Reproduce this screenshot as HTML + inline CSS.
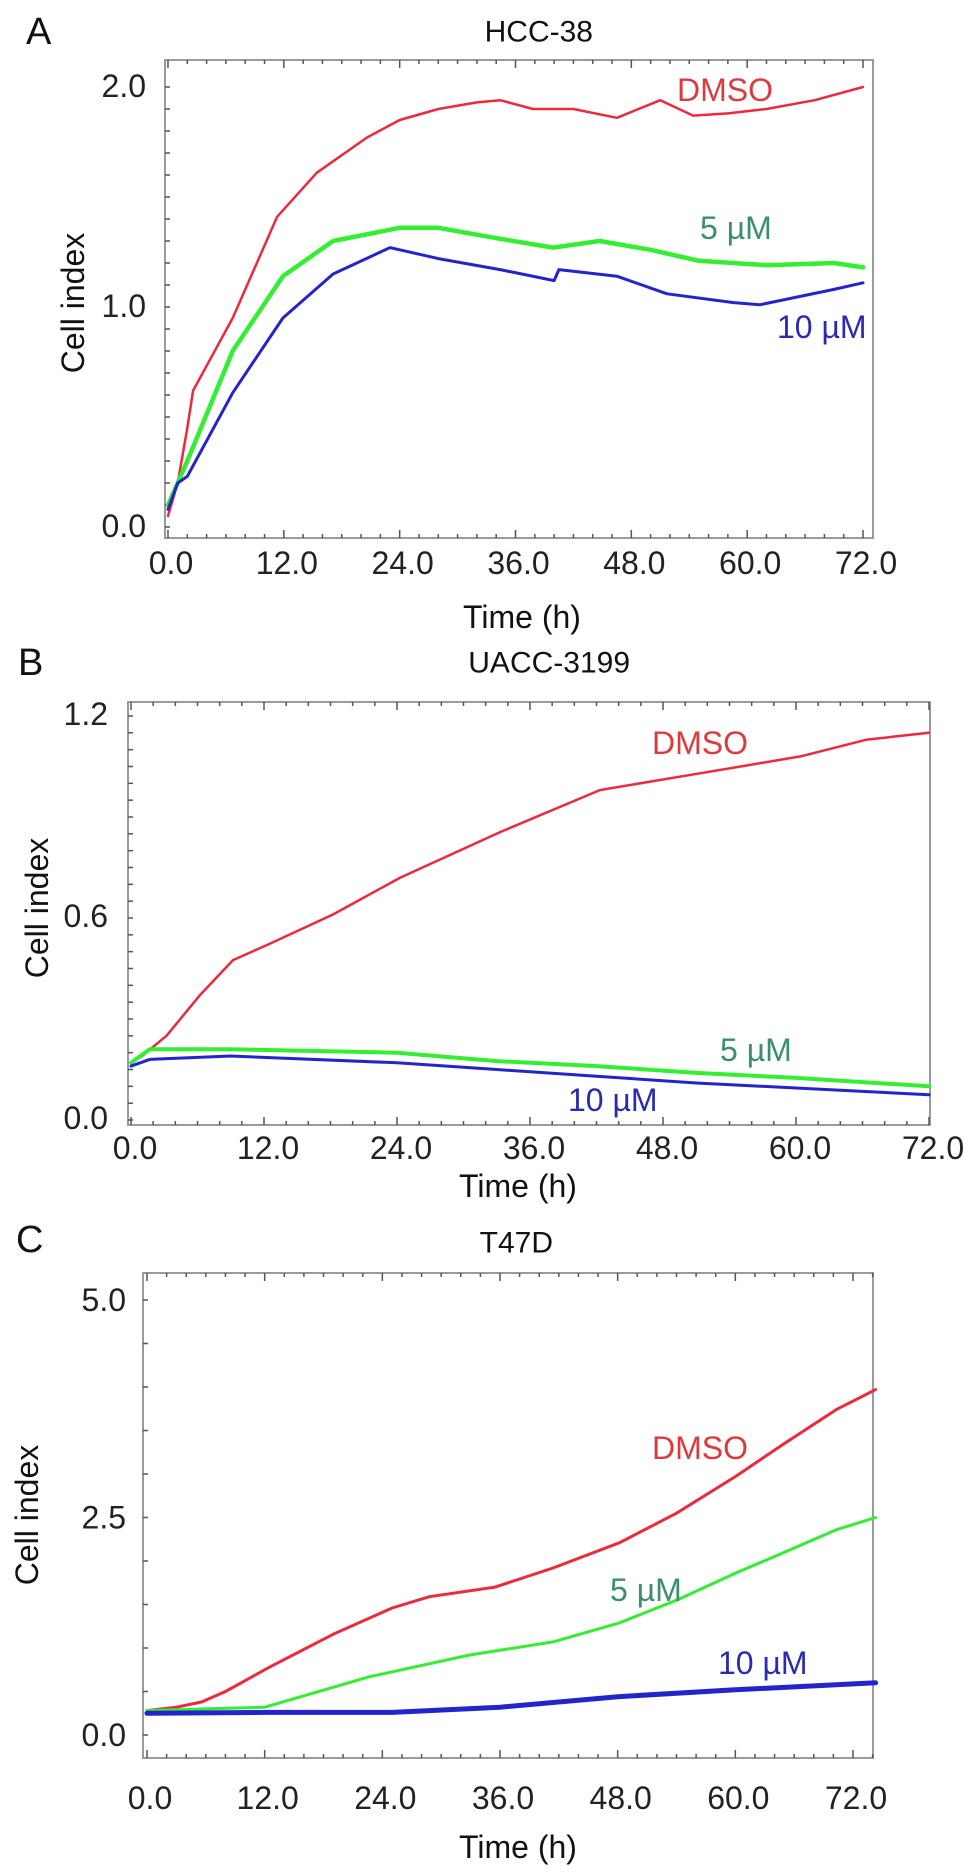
<!DOCTYPE html>
<html>
<head>
<meta charset="utf-8">
<style>
html,body{margin:0;padding:0;background:#fff;}
svg{display:block;font-family:"Liberation Sans",Arial,sans-serif;}
</style>
</head>
<body>
<svg id="fig" width="969" height="1872" viewBox="0 0 969 1872"></svg>
<script>
// ---------- Panel A: HCC-38 ----------
const aTimes = [0,1,2,2.6,6.7,11.3,15.4,20.6,24,28,32,34.4,37.8,42,46.5,51,54.4,58,62,67,72];
const aDMSO  = [0.05,0.2,0.45,0.62,0.95,1.41,1.61,1.77,1.85,1.9,1.93,1.94,1.9,1.9,1.86,1.94,1.87,1.88,1.9,1.94,2.0];
const aTimes5 = [0,1,2,6.7,11.9,17.1,24,28,34.4,39.9,44.7,50,55,62,69,72];
const a5uM   = [0.1,0.2,0.3,0.8,1.14,1.3,1.36,1.36,1.31,1.27,1.3,1.26,1.21,1.19,1.2,1.18];
const aTimes10 = [0,1,2,6.7,11.9,17.1,23,24,28,34.4,40,40.5,46.5,51.7,58.6,61.3,69,72];
const a10uM  = [0.08,0.2,0.23,0.61,0.95,1.15,1.27,1.26,1.22,1.17,1.12,1.17,1.14,1.06,1.02,1.01,1.08,1.11];
const aYTicks = [0.0,1.0,2.0];
const aXTicks = [0,12,24,36,48,60,72];

// ---------- Panel B: UACC-3199 ----------
const bTimes = [0,1,3.2,6.2,9.2,12.3,18.2,24.3,33.3,42.3,51.4,60.4,66.4,72];
const bDMSO  = [0.17,0.19,0.25,0.37,0.475,0.52,0.61,0.72,0.855,0.98,1.03,1.08,1.13,1.15];
const bTimes2 = [0,1.7,9,24,33,42,51,60,72];
const b5uM   = [0.17,0.21,0.21,0.2,0.175,0.16,0.14,0.125,0.1];
const b10uM  = [0.16,0.18,0.19,0.17,0.15,0.13,0.11,0.095,0.075];
const bYTicks = [0.0,0.6,1.2];
const bXTicks = [0,12,24,36,48,60,72];

// ---------- Panel C: T47D ----------
const cTimes = [0,3,5.6,8,12.5,19.2,25,28.8,35.5,41.4,48.2,54,60,65,70.3,74.3];
const cDMSO  = [0.28,0.32,0.38,0.5,0.78,1.17,1.46,1.59,1.7,1.92,2.21,2.55,2.97,3.35,3.74,3.97];
const cTimes5 = [0,6,12,22.7,32.9,41.4,48.2,54,60,65,70.3,74.3];
const c5uM   = [0.28,0.3,0.32,0.67,0.92,1.07,1.29,1.55,1.86,2.1,2.36,2.5];
const cTimes10 = [0,12,25,36,48,60,74.3];
const c10uM  = [0.25,0.26,0.26,0.32,0.44,0.52,0.6];
const cYTicks = [0.0,2.5,5.0];
const cXTicks = [0,12,24,36,48,60,72];

const NS = "http://www.w3.org/2000/svg";
const svg = document.getElementById('fig');
function mk(tag, attrs, parent){
  const e = document.createElementNS(NS, tag);
  for (const k in attrs) e.setAttribute(k, attrs[k]);
  (parent||svg).appendChild(e);
  return e;
}
function makeScale(d0,d1,r0,r1){ return v => r0 + (v-d0)/(d1-d0)*(r1-r0); }

function panel(cfg){
  const g = mk('g',{});
  
  
  const x = makeScale(0,72,cfg.x0,cfg.x72);
  const y = makeScale(cfg.yLo,cfg.yHi,cfg.yLoPx,cfg.yHiPx);
  const f = cfg.frame;
  const fr = mk('rect',{x:f.l,y:f.t,width:f.r-f.l,height:f.b-f.t,fill:'none',stroke:'#9a9a9a','stroke-width':2},g);
  
  
  for (let t=0; t<=cfg.xMaxTick; t+=2){
    const px = x(t);
    if (px < f.l || px > f.r) continue;
    const len = (t%12===0)?8:4;
    mk('line',{x1:px,x2:px,y1:f.b,y2:f.b-len,stroke:'#555','stroke-width':1.5},g);
    mk('line',{x1:px,x2:px,y1:f.t,y2:f.t+len,stroke:'#555','stroke-width':1.5},g);
  }
  const step = cfg.yMinor;
  for (let v=cfg.yLo; v<=cfg.yHi+1e-9; v+=step){
    const py = y(v);
    if (py < f.t || py > f.b) continue;
    mk('line',{x1:f.l,x2:f.l+5,y1:py,y2:py,stroke:'#555','stroke-width':1.5},g);
  }
  cfg.xTicks.forEach(t=>{
    const tx = mk('text',{x:x(t)+cfg.xLabelDx,y:cfg.xLabelY,'font-size':32,'text-anchor':'middle','dominant-baseline':'central',fill:'#222'},g);
    tx.textContent = t.toFixed(1);
    
    
  });
  cfg.yTicks.forEach(v=>{
    const ty = mk('text',{x:cfg.yLabelX,y:y(v)+cfg.yLabelDy,'font-size':32,'text-anchor':'end','dominant-baseline':'central',fill:'#222'},g);
    ty.textContent = v.toFixed(1);
    
    
  });
  cfg.series.forEach(s=>{
    const pts = s.t.map((t,i)=>x(t).toFixed(1)+','+y(s.v[i]).toFixed(1)).join(' ');
    const pl = mk('polyline',{points:pts,fill:'none',stroke:s.color,'stroke-width':s.w,'stroke-linejoin':'round','stroke-linecap':'round'},g);
    
    
  });
  cfg.labels.forEach(l=>{
    const tl = mk('text',{x:l.x,y:l.y,'font-size':32,'dominant-baseline':'central',fill:l.color},g);
    tl.textContent = l.text;
    
    
  });
  const pl = mk('text',{x:cfg.letter.x,y:cfg.letter.y,'font-size':38,'dominant-baseline':'central',fill:'#111'},g);
  pl.textContent = cfg.letter.text;
  
  
  const tt = mk('text',{x:cfg.title.x,y:cfg.title.y,'font-size':30,'text-anchor':'end','dominant-baseline':'central',fill:'#111'},g);
  tt.textContent = cfg.title.text;
  
  
  const xt = mk('text',{x:cfg.xTitle.x,y:cfg.xTitle.y,'font-size':32,'text-anchor':'middle','dominant-baseline':'central',fill:'#111'},g);
  xt.textContent = 'Time (h)';
  
  
  const yt = mk('text',{x:0,y:0,'font-size':32,'text-anchor':'middle','dominant-baseline':'central',fill:'#111',transform:'translate('+cfg.yTitle.x+','+cfg.yTitle.y+') rotate(-90)'},g);
  yt.textContent = 'Cell index';
  
  
}

const RED='#ec2a3c', GREEN='#33ee33', BLUE='#2424cc';
const LRED='#dc3a3e', LGREEN='#3a8f6e', LBLUE='#2a2ab4';

panel({
  id:'hcc38', frame:{l:165,t:60,r:873,b:538},
  x0:168, x72:863, xMaxTick:72, yLo:0, yHi:2, yLoPx:527, yHiPx:87, yMinor:0.1,
  xTicks:aXTicks, yTicks:aYTicks, xLabelY:563, xLabelDx:3, yLabelX:146, yLabelDy:-1,
  series:[
    {name:'dmso',t:aTimes,v:aDMSO,color:RED,w:2.5},
    {name:'5um',t:aTimes5,v:a5uM,color:GREEN,w:4.5},
    {name:'10um',t:aTimes10,v:a10uM,color:BLUE,w:3}
  ],
  labels:[
    {name:'dmso',text:'DMSO',x:677,y:90,color:LRED},
    {name:'5um',text:'5 µM',x:700,y:228,color:LGREEN},
    {name:'10um',text:'10 µM',x:777,y:327,color:LBLUE}
  ],
  letter:{text:'A',x:26,y:32}, title:{text:'HCC-38',x:593,y:32},
  xTitle:{x:522,y:617}, yTitle:{x:73,y:303}
});

panel({
  id:'uacc3199', frame:{l:128,t:702,r:930,b:1125},
  x0:131, x72:929, xMaxTick:72, yLo:0, yHi:1.2, yLoPx:1120, yHiPx:716, yMinor:0.05,
  xTicks:bXTicks, yTicks:bYTicks, xLabelY:1148, xLabelDx:4, yLabelX:108, yLabelDy:-2,
  series:[
    {name:'dmso',t:bTimes,v:bDMSO,color:RED,w:2.5},
    {name:'5um',t:bTimes2,v:b5uM,color:GREEN,w:4},
    {name:'10um',t:bTimes2,v:b10uM,color:BLUE,w:3}
  ],
  labels:[
    {name:'dmso',text:'DMSO',x:652,y:743,color:LRED},
    {name:'5um',text:'5 µM',x:720,y:1050,color:LGREEN},
    {name:'10um',text:'10 µM',x:568,y:1100,color:LBLUE}
  ],
  letter:{text:'B',x:18,y:663}, title:{text:'UACC-3199',x:630,y:663},
  xTitle:{x:518,y:1186}, yTitle:{x:37,y:908}
});

panel({
  id:'t47d', frame:{l:143,t:1273,r:873,b:1758},
  x0:147, x72:853, xMaxTick:74, yLo:0, yHi:5, yLoPx:1735, yHiPx:1300, yMinor:0.5,
  xTicks:cXTicks, yTicks:cYTicks, xLabelY:1798, xLabelDx:3, yLabelX:126, yLabelDy:0,
  series:[
    {name:'dmso',t:cTimes,v:cDMSO,color:RED,w:3},
    {name:'5um',t:cTimes5,v:c5uM,color:GREEN,w:3},
    {name:'10um',t:cTimes10,v:c10uM,color:BLUE,w:5}
  ],
  labels:[
    {name:'dmso',text:'DMSO',x:652,y:1448,color:LRED},
    {name:'5um',text:'5 µM',x:610,y:1590,color:LGREEN},
    {name:'10um',text:'10 µM',x:718,y:1663,color:LBLUE}
  ],
  letter:{text:'C',x:16,y:1240}, title:{text:'T47D',x:553,y:1243},
  xTitle:{x:518,y:1847}, yTitle:{x:27,y:1515}
});
</script>
</body>
</html>
